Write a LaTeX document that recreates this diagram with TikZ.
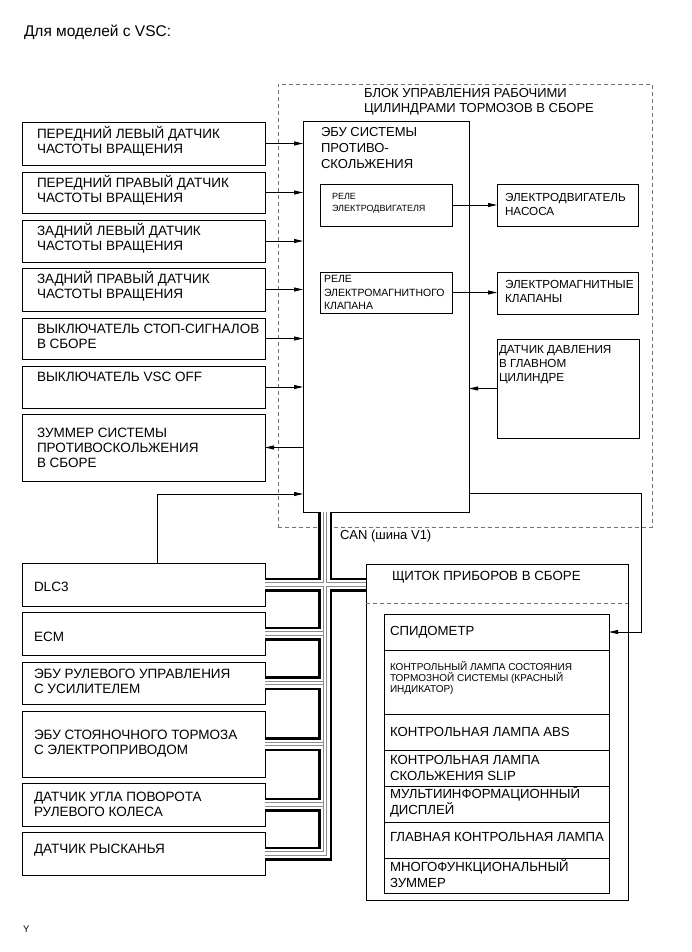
\documentclass[tikz,border=0pt]{standalone}
\usepackage{fontspec}
\setmainfont{Liberation Sans}
\usetikzlibrary{arrows.meta}

\begin{document}
\begin{tikzpicture}[
    x=1pt, y=-1pt,
    every node/.style={text=black, inner sep=0pt, outer sep=0pt},
    box/.style={draw, line width=0.9pt, rectangle},
    txt/.style={anchor=west, align=left, font=\fontsize{13.5}{15}\selectfont},
    mid/.style={anchor=west, align=left, font=\fontsize{11.7}{14}\selectfont},
    rowtxt/.style={anchor=west, align=left, font=\fontsize{13.2}{15.5}\selectfont},
    rowsmall/.style={anchor=west, align=left, font=\fontsize{10}{11}\selectfont},
    arr/.style={line width=0.8pt, -{Triangle[length=9pt,width=4pt]}},
    frame/.style={draw=black!55, dash pattern=on 4pt off 3pt, line width=0.7pt}
]
    \useasboundingbox (0,0) rectangle (691,952);

    \node[anchor=base west, font=\fontsize{15.5}{18}\selectfont] (title) at (24,37) {Для моделей с VSC:};

    % ==========================
    % HYDRAULIC UNIT (dashed frame)
    % ==========================
    \node[frame, minimum width=374pt, minimum height=443pt] (hcu) at (465,305.5) {};
    \node[txt, font=\fontsize{13}{15}\selectfont] (hcut) at (364,101.5)
        {БЛОК УПРАВЛЕНИЯ РАБОЧИМИ\\ЦИЛИНДРАМИ ТОРМОЗОВ В СБОРЕ};

    \node[box, fill=white, minimum width=166pt, minimum height=391pt] (ecu) at (386,316.5) {};
    \node[txt, font=\fontsize{13}{16}\selectfont] (ecut) at (321,148)
        {ЭБУ СИСТЕМЫ\\ПРОТИВО-\\СКОЛЬЖЕНИЯ};

    % relays inside the ECU
    \node[box, minimum width=132pt, minimum height=42pt] (rm) at (386,205) {};
    \node[anchor=west, align=left, font=\fontsize{9}{12}\selectfont] (rmt) at (332,203)
        {РЕЛЕ\\ЭЛЕКТРОДВИГАТЕЛЯ};
    \node[box, minimum width=132pt, minimum height=41pt] (rv) at (386,292.5) {};
    \node[anchor=west, align=left, font=\fontsize{10.5}{13.5}\selectfont] (rvt) at (324,292.5)
        {РЕЛЕ\\ЭЛЕКТРОМАГНИТНОГО\\КЛАПАНА};

    % actuators and master cylinder sensor
    \node[box, minimum width=141pt, minimum height=42pt] (pm) at (567.5,205) {};
    \node[mid] (pmt) at (505,204) {ЭЛЕКТРОДВИГАТЕЛЬ\\НАСОСА};
    \node[box, minimum width=141pt, minimum height=42pt] (sv) at (567.5,293) {};
    \node[mid] (svt) at (505,291.5) {ЭЛЕКТРОМАГНИТНЫЕ\\КЛАПАНЫ};
    \node[box, minimum width=142pt, minimum height=99pt] (ps) at (568,388.5) {};
    \node[mid] (pst) at (499,365) {ДАТЧИК ДАВЛЕНИЯ\\В ГЛАВНОМ\\ЦИЛИНДРЕ};

    \draw[arr] (rm.east) -- (pm.west);
    \draw[arr] (rv.east) -- (rv.east -| sv.west);
    \draw[arr] (ps.west) -- (ps.west -| ecu.east);

    % ==========================
    % LEFT: sensors and switches
    % ==========================
    \foreach \i/\top/\h/\dy/\txt in {
        1/122/43/2/{ПЕРЕДНИЙ ЛЕВЫЙ ДАТЧИК\\ЧАСТОТЫ ВРАЩЕНИЯ},
        2/172/41/2/{ПЕРЕДНИЙ ПРАВЫЙ ДАТЧИК\\ЧАСТОТЫ ВРАЩЕНИЯ},
        3/220/42/3/{ЗАДНИЙ ЛЕВЫЙ ДАТЧИК\\ЧАСТОТЫ ВРАЩЕНИЯ},
        4/268/43/3/{ЗАДНИЙ ПРАВЫЙ ДАТЧИК\\ЧАСТОТЫ ВРАЩЕНИЯ},
        5/318/41/2/{ВЫКЛЮЧАТЕЛЬ СТОП-СИГНАЛОВ\\В СБОРЕ},
        6/366/42/10/{ВЫКЛЮЧАТЕЛЬ VSC OFF},
        7/414/67/0/{ЗУММЕР СИСТЕМЫ\\ПРОТИВОСКОЛЬЖЕНИЯ\\В СБОРЕ}}
    {
        \node[box, minimum width=243pt, minimum height=\h pt] (S\i) at (143.5,{\top+\h/2}) {};
        \node[txt, yshift=\dy pt] (S\i t) at ([xshift=15pt]S\i.west) {\txt};
    }
    \foreach \i in {1,...,6}
        \draw[arr] (S\i.east) -- (S\i.east -| ecu.west);
    \draw[arr] (S7.east -| ecu.west) -- (S7.east);

    % ==========================
    % CAN (V1 bus) members
    % ==========================
    \foreach \i/\top/\h/\dy/\txt in {
        1/563/43/-2/{DLC3},
        2/612/43/-3/{ECM},
        3/662/42/2/{ЭБУ РУЛЕВОГО УПРАВЛЕНИЯ\\С УСИЛИТЕЛЕМ},
        4/711/66/0/{ЭБУ СТОЯНОЧНОГО ТОРМОЗА\\С ЭЛЕКТРОПРИВОДОМ},
        5/783/43/0/{ДАТЧИК УГЛА ПОВОРОТА\\РУЛЕВОГО КОЛЕСА},
        6/832/43/3/{ДАТЧИК РЫСКАНЬЯ}}
    {
        \node[box, minimum width=243pt, minimum height=\h pt] (C\i) at (143.5,{\top+\h/2}) {};
        \node[txt, yshift=\dy pt] (C\i t) at ([xshift=12pt]C\i.west) {\txt};
    }

    \draw[arr] ([xshift=13.5pt]C1.north) |- (ecu.west |- 0,494);

    % ==========================
    % COMBINATION METER
    % ==========================
    \node[box, line width=0.8pt, minimum width=262pt, minimum height=336pt] (cl) at (497,732) {};
    \node[txt, font=\fontsize{13.3}{15}\selectfont] (clt) at (392,577) {ЩИТОК ПРИБОРОВ В СБОРЕ};
    \draw[frame] (cl.west |- 0,603) -- (cl.east |- 0,603);

    \foreach \i/\top/\h/\st/\dy/\txt in {
        1/614/36/rowtxt/0/{СПИДОМЕТР},
        2/650/64/rowsmall/4/{КОНТРОЛЬНЫЙ ЛАМПА СОСТОЯНИЯ\\ТОРМОЗНОЙ СИСТЕМЫ (КРАСНЫЙ\\ИНДИКАТОР)},
        3/714/36/rowtxt/0/{КОНТРОЛЬНАЯ ЛАМПА ABS},
        4/750/36/rowtxt/0/{КОНТРОЛЬНАЯ ЛАМПА\\СКОЛЬЖЕНИЯ SLIP},
        5/786/36/rowtxt/2/{МУЛЬТИИНФОРМАЦИОННЫЙ\\ДИСПЛЕЙ},
        6/822/36/rowtxt/3/{ГЛАВНАЯ КОНТРОЛЬНАЯ ЛАМПА},
        7/858/35/rowtxt/2/{МНОГОФУНКЦИОНАЛЬНЫЙ\\ЗУММЕР}}
    {
        \node[box, minimum width=225pt, minimum height=\h pt] (P\i) at (496.5,{\top+\h/2}) {};
        \node[\st, yshift=\dy pt] (P\i t) at ([xshift=6pt]P\i.west) {\txt};
    }

    \draw[arr] (ecu.east |- 0,493) -| ([xshift=32pt]P1.east) -- (P1.east);

    % CAN bus drawn in layers: black edges, white gap, grey pair
    \coordinate (bus) at ([xshift=22pt]ecu.south west);
    \foreach \w/\c in {14/black, 9/white, 4.6/black!45, 2.2/white}
    {
        \draw[line width=\w pt, \c] (bus) -- (bus |- C6.east) -- (C6.east);
        \draw[line width=\w pt, \c] (C1.east) -- (cl.west |- C1.east);
        \foreach \j in {2,...,5}
            \draw[line width=\w pt, \c] (C\j.east) -- ([xshift=-2pt]bus |- C\j.east);
    }
    \node[txt, font=\fontsize{13}{15}\selectfont] (can) at (340,536) {CAN (шина V1)};

    \node[anchor=base west, font=\fontsize{9.5}{11}\selectfont] (yy) at (23,932) {Y};

\end{tikzpicture}
\end{document}
